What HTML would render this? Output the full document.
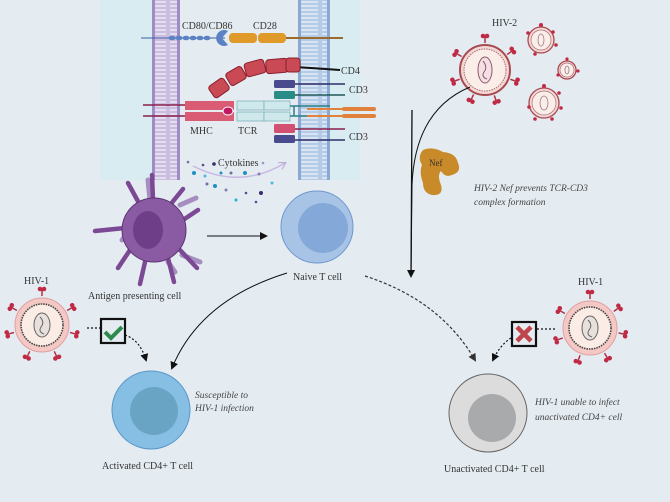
<!DOCTYPE html>
<html><head><style>
html,body{margin:0;padding:0;background:#e4ecf2;}
svg{display:block;font-family:"Liberation Serif",serif;}
</style></head><body>
<svg width="670" height="502" viewBox="0 0 670 502" xmlns="http://www.w3.org/2000/svg">
<defs>
<marker id="ah" markerWidth="8" markerHeight="8" refX="6" refY="4" orient="auto" markerUnits="userSpaceOnUse"><path d="M0,0 L8,4 L0,8 z" fill="#111"/></marker>
<marker id="ahg" markerWidth="8" markerHeight="8" refX="6" refY="4" orient="auto" markerUnits="userSpaceOnUse"><path d="M0,0 L8,4 L0,8 z" fill="#333"/></marker>
<marker id="ahp" markerWidth="8" markerHeight="8" refX="6" refY="4" orient="auto" markerUnits="userSpaceOnUse"><path d="M0,0 L7,4 L0,8" fill="none" stroke="#b9a6d6"/></marker>
<pattern id="pm" width="28" height="4" patternUnits="userSpaceOnUse"><rect width="28" height="4" fill="#cbbde0"/><path d="M2,2 H26" stroke="#f4f0fa" stroke-width="1.2"/></pattern>
<pattern id="bm" width="32" height="4" patternUnits="userSpaceOnUse"><rect width="32" height="4" fill="#b4cbe6"/><path d="M2,2 H30" stroke="#eef4fb" stroke-width="1.2"/></pattern>
<g id="spk"><path d="M0,0 V-6" stroke="#b23045" stroke-width="1.5"/><circle cx="-2" cy="-7" r="2.3" fill="#c12a45"/><circle cx="2" cy="-7" r="2.3" fill="#c12a45"/></g>
</defs>

<!-- synapse panel -->
<rect x="100" y="0" width="260" height="180" fill="#d8ecf1"/>
<rect x="180" y="0" width="118" height="180" fill="#e4ecf2"/>
<rect x="152" y="0" width="28" height="180" fill="url(#pm)"/>
<rect x="152" y="0" width="3" height="180" fill="#a08cc4"/><rect x="177" y="0" width="3" height="180" fill="#a08cc4"/>
<rect x="298" y="0" width="32" height="180" fill="url(#bm)"/>
<rect x="298" y="0" width="3" height="180" fill="#8aa9d2"/><rect x="327" y="0" width="3" height="180" fill="#8aa9d2"/>

<!-- CD80 / CD28 -->
<line x1="141" y1="38" x2="225" y2="38" stroke="#3b5fa6" stroke-width="1"/>
<g fill="#5b82c4"><ellipse cx="172" cy="38" rx="3.5" ry="2.3"/><ellipse cx="179" cy="38" rx="3.5" ry="2.3"/><ellipse cx="186" cy="38" rx="3.5" ry="2.3"/><ellipse cx="193" cy="38" rx="3.5" ry="2.3"/><ellipse cx="200" cy="38" rx="3.5" ry="2.3"/><ellipse cx="207" cy="38" rx="3.5" ry="2.3"/></g>
<path d="M228,31 A8,8 0 1 0 228,45 L222,38 z" fill="#5b82c4"/>
<line x1="285" y1="38" x2="343" y2="38" stroke="#9a6a2e" stroke-width="2"/>
<rect x="229" y="33" width="28" height="10" rx="4" fill="#e09a2a"/>
<rect x="258" y="33" width="28" height="10" rx="4" fill="#e09a2a"/>
<text x="182" y="29" font-size="10" fill="#333">CD80/CD86</text>
<text x="253" y="29" font-size="10" fill="#333">CD28</text>

<!-- CD4 -->
<line x1="296" y1="67" x2="340" y2="70" stroke="#111" stroke-width="2"/>
<g fill="#c94a55" stroke="#8a1f2c" stroke-width="1">
<rect x="113" y="86" width="17" height="13" rx="3" transform="rotate(-25 121 92) translate(0 0)" />
</g>
<g fill="#c94a55" stroke="#8a1f2c" stroke-width="1">
<rect x="-9" y="-7" width="18" height="14" rx="3" transform="translate(123 89) rotate(-35)" style="display:none"/>
<rect x="-9" y="-7" width="18" height="14" rx="3" transform="translate(219 88) rotate(-35)"/>
<rect x="-9" y="-7" width="18" height="14" rx="3" transform="translate(236 76) rotate(-30)"/>
<rect x="-10" y="-7" width="20" height="14" rx="3" transform="translate(255 68) rotate(-15)"/>
<rect x="-11" y="-7" width="22" height="14" rx="3" transform="translate(277 66) rotate(-5)"/>
<rect x="-7" y="-7" width="14" height="14" rx="3" transform="translate(293 65)"/>
</g>
<rect x="100" y="80" width="40" height="25" fill="#d8ecf1"/>
<text x="341" y="74" font-size="10" fill="#333">CD4</text>

<!-- CD3 top -->
<line x1="295" y1="84" x2="345" y2="84" stroke="#2e2e6a" stroke-width="1.5"/>
<line x1="295" y1="95" x2="345" y2="95" stroke="#1e5a5a" stroke-width="1.5"/>
<rect x="274" y="80" width="21" height="8" rx="1.5" fill="#4a4b8e"/>
<rect x="274" y="91" width="21" height="8" rx="1.5" fill="#2a8c86"/>
<text x="349" y="93" font-size="10" fill="#333">CD3</text>

<!-- MHC / TCR -->
<line x1="143" y1="105" x2="186" y2="105" stroke="#8a1f4a" stroke-width="1.5"/>
<line x1="143" y1="116" x2="186" y2="116" stroke="#8a1f4a" stroke-width="1.5"/>
<path d="M185,101 H234 L228,106 H185 z" fill="#d95b74"/>
<rect x="185" y="101" width="49" height="9" fill="#d95b74"/>
<rect x="185" y="112" width="49" height="9" fill="#d95b74"/>
<ellipse cx="228" cy="111" rx="5" ry="4" fill="#c21860" stroke="#fff" stroke-width="1"/>
<g fill="#cfe8ec" stroke="#7fb3bb" stroke-width="0.8">
<rect x="237" y="101" width="27" height="9"/><rect x="264" y="101" width="26" height="9"/>
<rect x="237" y="112" width="27" height="9"/><rect x="264" y="112" width="26" height="9"/>
</g>
<path d="M290,106 H330 M290,116 H330 M294,106 V116" stroke="#2a7f86" stroke-width="1.5" fill="none"/>
<line x1="307" y1="109" x2="375" y2="109" stroke="#e0823c" stroke-width="2"/>
<line x1="307" y1="116" x2="375" y2="116" stroke="#e0823c" stroke-width="2"/>
<rect x="342" y="107" width="34" height="4" rx="2" fill="#e0823c"/>
<rect x="342" y="114" width="34" height="4" rx="2" fill="#e0823c"/>
<text x="190" y="134" font-size="10" fill="#333">MHC</text>
<text x="238" y="134" font-size="10" fill="#333">TCR</text>

<!-- CD3 bottom -->
<line x1="295" y1="129" x2="345" y2="129" stroke="#8a1f4a" stroke-width="1.5"/>
<line x1="295" y1="140" x2="345" y2="140" stroke="#2e2e6a" stroke-width="1.5"/>
<rect x="274" y="124" width="21" height="9" rx="1.5" fill="#d45070"/>
<rect x="274" y="135" width="21" height="8" rx="1.5" fill="#4a4b8e"/>
<text x="349" y="140" font-size="10" fill="#333">CD3</text>

<!-- cytokines -->
<path d="M193,166 Q240,190 285,163" stroke="#c8b8e2" stroke-width="1.5" fill="none" marker-end="url(#ahp)"/>
<text x="218" y="166" font-size="10" fill="#333">Cytokines</text>
<g>
<circle cx="188" cy="162" r="1.3" fill="#7a6aa8"/><circle cx="203" cy="165" r="1.3" fill="#5a4a8a"/><circle cx="214" cy="164" r="1.8" fill="#3a2a6a"/>
<circle cx="194" cy="173" r="2" fill="#1e90c8"/><circle cx="205" cy="176" r="1.5" fill="#4ab8e0"/><circle cx="221" cy="173" r="1.5" fill="#1e90c8"/>
<circle cx="231" cy="173" r="1.5" fill="#7a6aa8"/><circle cx="245" cy="173" r="2" fill="#1e90c8"/><circle cx="259" cy="174" r="1.5" fill="#8a7ab8"/>
<circle cx="207" cy="184" r="1.5" fill="#7a6aa8"/><circle cx="215" cy="186" r="2" fill="#1e90c8"/><circle cx="226" cy="190" r="1.5" fill="#8a7ab8"/>
<circle cx="246" cy="193" r="1.3" fill="#5a4a8a"/><circle cx="261" cy="193" r="2" fill="#3a2a6a"/><circle cx="236" cy="200" r="1.5" fill="#1eb0d8"/>
<circle cx="256" cy="202" r="1.3" fill="#5a4a8a"/><circle cx="272" cy="183" r="1.5" fill="#4ab8e0"/><circle cx="263" cy="163" r="1.3" fill="#a090c8"/>
</g>

<!-- APC -->
<g stroke="#a68fc0" stroke-width="5" stroke-linecap="round" fill="none">
<path d="M180,205 L196,198"/><path d="M182,255 L200,262"/><path d="M130,230 L122,240"/><path d="M150,200 L148,180"/><path d="M168,262 L175,272"/>
</g>
<g stroke="#7c4a94" stroke-width="4.5" stroke-linecap="round" fill="none">
<path d="M153,200 L152,175"/><path d="M140,205 L128,183"/><path d="M170,205 L183,189"/><path d="M183,220 L198,210"/>
<path d="M125,228 L95,231"/><path d="M130,250 L118,268"/><path d="M145,262 L140,284"/><path d="M168,258 L174,282"/><path d="M180,250 L197,268"/>
</g>
<circle cx="154" cy="230" r="32" fill="#8a5aa2" stroke="#5e3375" stroke-width="1"/>
<ellipse cx="148" cy="230" rx="15" ry="19" fill="#6e3f88"/>
<text x="88" y="299" font-size="10" fill="#333">Antigen presenting cell</text>

<line x1="207" y1="236" x2="266" y2="236" stroke="#111" stroke-width="1" marker-end="url(#ah)"/>

<!-- Naive T cell -->
<circle cx="317" cy="227" r="36" fill="#a7c4e6" stroke="#6f97cc" stroke-width="1"/>
<circle cx="323" cy="228" r="25" fill="#84a8d8"/>
<text x="293" y="280" font-size="10" fill="#333">Naive T cell</text>

<!-- HIV-2 -->
<text x="492" y="26" font-size="10" fill="#333">HIV-2</text>
<g transform="translate(485,70)">
<g transform="rotate(0) translate(0,-27)"><use href="#spk"/></g>
<g transform="rotate(55) translate(0,-27)"><use href="#spk"/></g>
<g transform="rotate(110) translate(0,-27)"><use href="#spk"/></g>
<g transform="rotate(160) translate(0,-27)"><use href="#spk"/></g>
<g transform="rotate(205) translate(0,-27)"><use href="#spk"/></g>
<g transform="rotate(250) translate(0,-27)"><use href="#spk"/></g>
<g transform="rotate(300) translate(0,-27)"><use href="#spk"/></g>
<circle r="25" fill="#f4d8d4" stroke="#a84a52" stroke-width="2"/>
<circle r="21" fill="#fbeee9" stroke="#a86a78" stroke-width="1" stroke-dasharray="1.5 1"/>
<ellipse rx="7" ry="13" fill="#f4e0e4" stroke="#8a5a6a" stroke-width="1"/>
<path d="M-2,-9 Q3,-3 -1,2 Q-4,7 2,9" stroke="#8a5a6a" fill="none"/>
</g>
<g fill="#f4d8d4" stroke="#a84a52" stroke-width="1.3">
<circle cx="541" cy="40" r="13"/><circle cx="567" cy="70" r="9"/><circle cx="544" cy="103" r="15"/>
</g>
<g fill="#fbeee9" stroke="#a86a78" stroke-width="0.7"><circle cx="541" cy="40" r="10"/><circle cx="567" cy="70" r="7"/><circle cx="544" cy="103" r="12"/></g>
<g fill="#c12a45"><circle cx="541" cy="25" r="2"/><circle cx="553" cy="32" r="1.8"/><circle cx="528" cy="33" r="1.8"/><circle cx="556" cy="45" r="1.8"/><circle cx="535" cy="54" r="1.8"/>
<circle cx="567" cy="59" r="1.6"/><circle cx="578" cy="71" r="1.6"/><circle cx="558" cy="75" r="1.6"/>
<circle cx="544" cy="86" r="2"/><circle cx="559" cy="93" r="1.8"/><circle cx="529" cy="107" r="1.8"/><circle cx="561" cy="108" r="1.8"/><circle cx="552" cy="119" r="1.8"/><circle cx="535" cy="119" r="1.8"/></g>
<g fill="none" stroke="#9a7a8a" stroke-width="0.8"><ellipse cx="541" cy="40" rx="3" ry="6"/><ellipse cx="567" cy="70" rx="2" ry="4"/><ellipse cx="544" cy="103" rx="4" ry="7"/></g>

<!-- Nef -->
<path d="M423,150 Q432,146 443,152 Q456,153 458,163 Q462,172 452,175 Q445,178 441,171 Q437,175 441,185 Q444,196 432,195 Q423,193 423,183 Q419,172 422,165 Q417,157 423,150 z" fill="#c98a2a"/>
<text x="429" y="166" font-size="9" fill="#333">Nef</text>
<text x="474" y="191" font-size="9.5" font-style="italic" fill="#444">HIV-2 Nef prevents TCR-CD3</text>
<text x="474" y="205" font-size="9.5" font-style="italic" fill="#444">complex formation</text>

<path d="M470,87 Q415,110 412,185 L411,276" stroke="#111" stroke-width="1" fill="none"/>
<path d="M412,110 L411,276" stroke="#111" stroke-width="1.3" fill="none" marker-end="url(#ah)"/>

<!-- dashed naive -> unactivated -->
<path d="M365,276 Q440,300 475,360" stroke="#333" stroke-width="1.2" stroke-dasharray="3 2" fill="none" marker-end="url(#ahg)"/>

<!-- black curve naive -> activated -->
<path d="M287,273 Q200,300 172,368" stroke="#111" stroke-width="1" fill="none" marker-end="url(#ah)"/>

<!-- HIV-1 left -->
<text x="24" y="284" font-size="10" fill="#333">HIV-1</text>
<g transform="translate(42,325)">
<g transform="rotate(0) translate(0,-29)"><use href="#spk"/></g>
<g transform="rotate(60) translate(0,-29)"><use href="#spk"/></g>
<g transform="rotate(105) translate(0,-29)"><use href="#spk"/></g>
<g transform="rotate(155) translate(0,-29)"><use href="#spk"/></g>
<g transform="rotate(205) translate(0,-29)"><use href="#spk"/></g>
<g transform="rotate(255) translate(0,-29)"><use href="#spk"/></g>
<g transform="rotate(300) translate(0,-29)"><use href="#spk"/></g>
<circle r="27" fill="#f4c8c4" stroke="#e0a0a0" stroke-width="1"/>
<circle r="21" fill="#fbece6" stroke="#444" stroke-width="1.6" stroke-dasharray="1.5 1"/>
<ellipse rx="8" ry="12" fill="#e8e0dc" stroke="#666"/>
<path d="M-2,-8 Q3,-3 -1,2 Q-4,7 2,9" stroke="#666" fill="none"/>
</g>
<path d="M87,328 H101" stroke="#111" stroke-width="1.2" stroke-dasharray="2 2"/>
<rect x="101" y="319" width="24" height="24" fill="#e4ecf2" stroke="#111" stroke-width="2.2"/>
<path d="M105,332 L111,338 L122,327" stroke="#2e8a4a" stroke-width="4" fill="none"/>
<path d="M125,335 Q140,340 146,360" stroke="#111" stroke-width="1.2" stroke-dasharray="2 2" fill="none" marker-end="url(#ah)"/>

<!-- Activated -->
<circle cx="151" cy="410" r="39" fill="#86bfe3" stroke="#5a96c8" stroke-width="1"/>
<circle cx="154" cy="411" r="24" fill="#6aa4c4"/>
<text x="195" y="398" font-size="9.5" font-style="italic" fill="#444">Susceptible to</text>
<text x="195" y="411" font-size="9.5" font-style="italic" fill="#444">HIV-1 infection</text>
<text x="102" y="469" font-size="10" fill="#333">Activated CD4+ T cell</text>

<!-- HIV-1 right -->
<text x="578" y="285" font-size="10" fill="#333">HIV-1</text>
<g transform="translate(590,328)">
<g transform="rotate(0) translate(0,-29)"><use href="#spk"/></g>
<g transform="rotate(55) translate(0,-29)"><use href="#spk"/></g>
<g transform="rotate(100) translate(0,-29)"><use href="#spk"/></g>
<g transform="rotate(150) translate(0,-29)"><use href="#spk"/></g>
<g transform="rotate(200) translate(0,-29)"><use href="#spk"/></g>
<g transform="rotate(250) translate(0,-29)"><use href="#spk"/></g>
<g transform="rotate(300) translate(0,-29)"><use href="#spk"/></g>
<circle r="27" fill="#f4c8c4" stroke="#e0a0a0" stroke-width="1"/>
<circle r="21" fill="#fbece6" stroke="#444" stroke-width="1.6" stroke-dasharray="1.5 1"/>
<ellipse rx="8" ry="12" fill="#e8e0dc" stroke="#666"/>
<path d="M-2,-8 Q3,-3 -1,2 Q-4,7 2,9" stroke="#666" fill="none"/>
</g>
<path d="M537,329 H556" stroke="#111" stroke-width="1.2" stroke-dasharray="2 2"/>
<rect x="512" y="322" width="24" height="24" fill="#e4ecf2" stroke="#111" stroke-width="2.2"/>
<path d="M517,327 L531,341 M531,327 L517,341" stroke="#c0454a" stroke-width="4.5"/>
<path d="M511,338 Q500,345 493,360" stroke="#111" stroke-width="1.2" stroke-dasharray="2 2" fill="none" marker-end="url(#ah)"/>

<!-- Unactivated -->
<circle cx="488" cy="413" r="39" fill="#dcdcdc" stroke="#666" stroke-width="1"/>
<circle cx="492" cy="418" r="24" fill="#a8aaab"/>
<text x="535" y="405" font-size="9.5" font-style="italic" fill="#444">HIV-1 unable to infect</text>
<text x="535" y="420" font-size="9.5" font-style="italic" fill="#444">unactivated CD4+ cell</text>
<text x="444" y="472" font-size="10" fill="#333">Unactivated CD4+ T cell</text>
</svg>
</body></html>
